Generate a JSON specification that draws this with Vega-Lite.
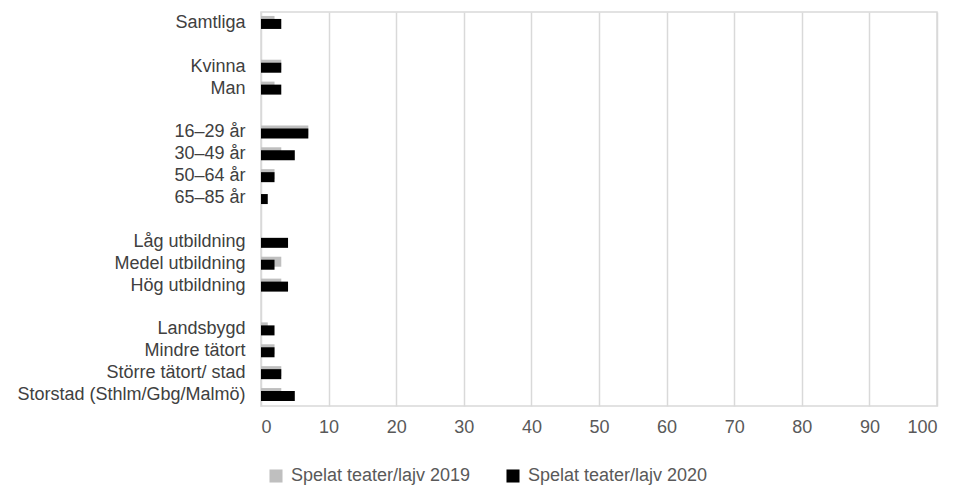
{
  "$schema": "https://vega.github.io/schema/vega-lite/v6.json",
  "width": 676,
  "height": 394,
  "autosize": "none",
  "padding": {"left": 261, "top": 12, "right": 17, "bottom": 83},
  "background": "white",
  "config": {
    "view": {"stroke": "#D9D9D9", "strokeWidth": 1.5},
    "font": "Liberation Sans"
  },
  "data": {
    "values": [
      {"category": "Samtliga", "series": "Spelat teater/lajv 2019", "value": 2},
      {"category": "Samtliga", "series": "Spelat teater/lajv 2020", "value": 3},
      {"category": "Kvinna", "series": "Spelat teater/lajv 2019", "value": 3},
      {"category": "Kvinna", "series": "Spelat teater/lajv 2020", "value": 3},
      {"category": "Man", "series": "Spelat teater/lajv 2019", "value": 2},
      {"category": "Man", "series": "Spelat teater/lajv 2020", "value": 3},
      {"category": "16–29 år", "series": "Spelat teater/lajv 2019", "value": 7},
      {"category": "16–29 år", "series": "Spelat teater/lajv 2020", "value": 7},
      {"category": "30–49 år", "series": "Spelat teater/lajv 2019", "value": 3},
      {"category": "30–49 år", "series": "Spelat teater/lajv 2020", "value": 5},
      {"category": "50–64 år", "series": "Spelat teater/lajv 2019", "value": 2},
      {"category": "50–64 år", "series": "Spelat teater/lajv 2020", "value": 2},
      {"category": "65–85 år", "series": "Spelat teater/lajv 2019", "value": 0},
      {"category": "65–85 år", "series": "Spelat teater/lajv 2020", "value": 1},
      {"category": "Låg utbildning", "series": "Spelat teater/lajv 2019", "value": 0},
      {"category": "Låg utbildning", "series": "Spelat teater/lajv 2020", "value": 4},
      {"category": "Medel utbildning", "series": "Spelat teater/lajv 2019", "value": 3},
      {"category": "Medel utbildning", "series": "Spelat teater/lajv 2020", "value": 2},
      {"category": "Hög utbildning", "series": "Spelat teater/lajv 2019", "value": 3},
      {"category": "Hög utbildning", "series": "Spelat teater/lajv 2020", "value": 4},
      {"category": "Landsbygd", "series": "Spelat teater/lajv 2019", "value": 1},
      {"category": "Landsbygd", "series": "Spelat teater/lajv 2020", "value": 2},
      {"category": "Mindre tätort", "series": "Spelat teater/lajv 2019", "value": 2},
      {"category": "Mindre tätort", "series": "Spelat teater/lajv 2020", "value": 2},
      {"category": "Större tätort/ stad", "series": "Spelat teater/lajv 2019", "value": 3},
      {"category": "Större tätort/ stad", "series": "Spelat teater/lajv 2020", "value": 3},
      {"category": "Storstad (Sthlm/Gbg/Malmö)", "series": "Spelat teater/lajv 2019", "value": 3},
      {"category": "Storstad (Sthlm/Gbg/Malmö)", "series": "Spelat teater/lajv 2020", "value": 5}
    ]
  },
  "encoding": {
    "y": {
      "field": "category",
      "type": "nominal",
      "title": null,
      "scale": {
        "domain": ["Samtliga", "gap1", "Kvinna", "Man", "gap2", "16–29 år", "30–49 år", "50–64 år", "65–85 år", "gap3", "Låg utbildning", "Medel utbildning", "Hög utbildning", "gap4", "Landsbygd", "Mindre tätort", "Större tätort/ stad", "Storstad (Sthlm/Gbg/Malmö)"],
        "paddingInner": 0,
        "paddingOuter": 0
      },
      "axis": {
        "labelExpr": "indexof(datum.label, 'gap') == 0 ? '' : datum.label",
        "ticks": false,
        "domain": false,
        "labelFontSize": 18,
        "labelColor": "#404040",
        "labelPadding": 16,
        "labelLimit": 0,
        "labelFont": "Liberation Sans"
      }
    },
    "x": {
      "field": "value",
      "type": "quantitative",
      "title": null,
      "scale": {"domain": [0, 100], "nice": false},
      "axis": {
        "values": [0, 10, 20, 30, 40, 50, 60, 70, 80, 90, 100],
        "grid": true,
        "gridColor": "#D9D9D9",
        "gridWidth": 1.5,
        "ticks": false,
        "domain": false,
        "labelFontSize": 18,
        "labelColor": "#595959",
        "labelPadding": 12,
        "labelFont": "Liberation Sans"
      }
    },
    "color": {
      "field": "series",
      "type": "nominal",
      "title": null,
      "scale": {
        "domain": ["Spelat teater/lajv 2019", "Spelat teater/lajv 2020"],
        "range": ["#BFBFBF", "#000000"]
      },
      "legend": {
        "orient": "none",
        "legendX": 6,
        "legendY": 455,
        "direction": "horizontal",
        "symbolType": "square",
        "symbolSize": 170,
        "symbolStrokeWidth": 0,
        "labelFontSize": 18,
        "labelColor": "#595959",
        "labelFont": "Liberation Sans",
        "labelLimit": 0,
        "columnPadding": 33,
        "labelOffset": 6
      }
    }
  },
  "layer": [
    {
      "transform": [{"filter": "datum.series == 'Spelat teater/lajv 2019'"}],
      "mark": {"type": "bar", "size": 10, "yOffset": -2}
    },
    {
      "transform": [{"filter": "datum.series == 'Spelat teater/lajv 2020'"}],
      "mark": {"type": "bar", "size": 10, "yOffset": 1}
    }
  ]
}
